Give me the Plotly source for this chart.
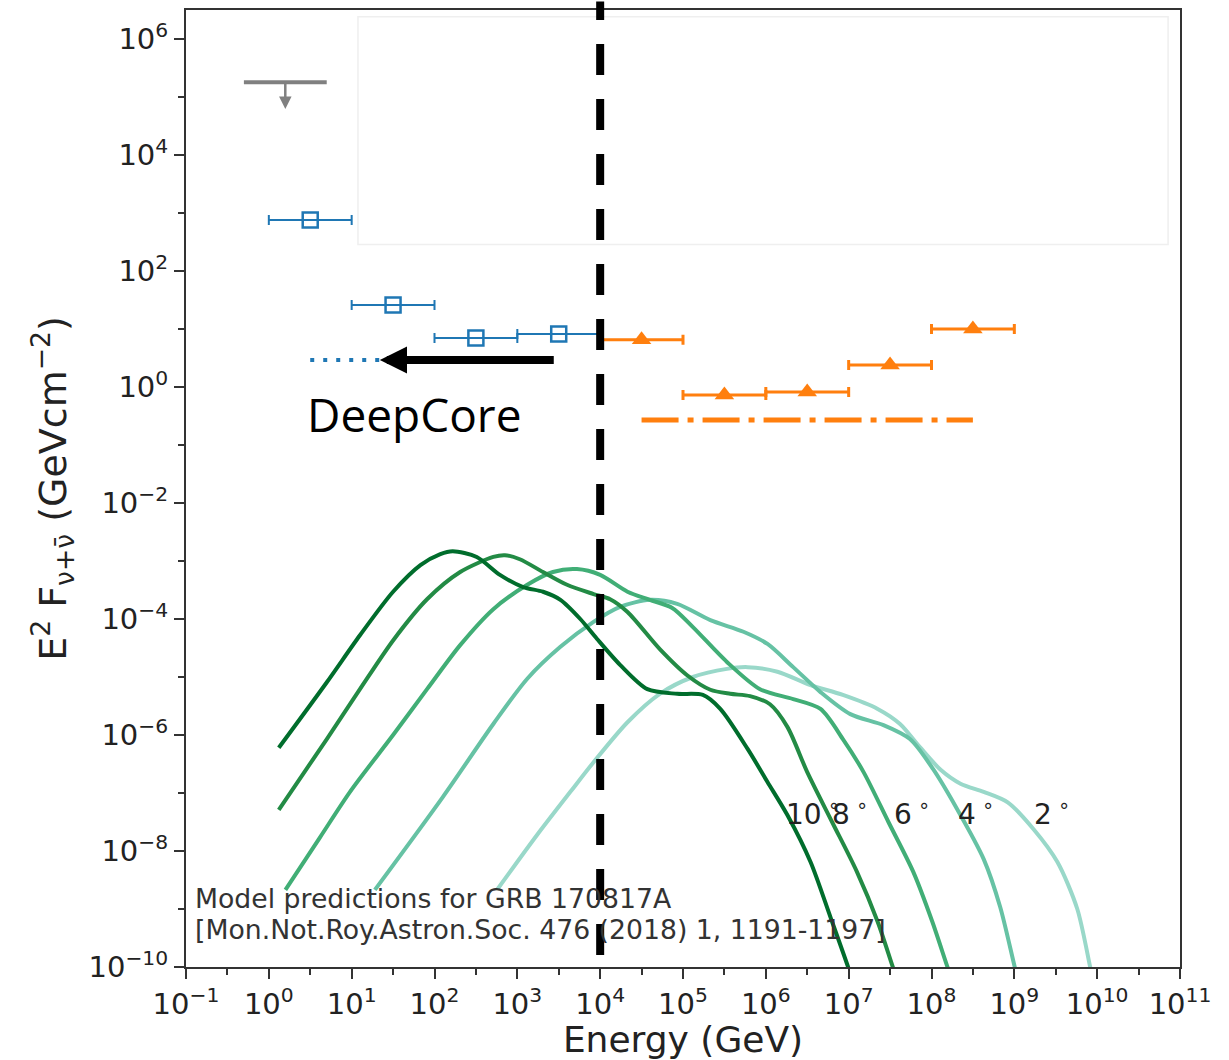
import math
import plotly.graph_objects as go

# ---------------- data ----------------
# grey upper limit
ul_center = [1.58]
ul_lo = [0.5]
ul_hi = [5.0]
ul_flux = [1.8e5]
ul_tip = [6.2e4]

# blue open squares with energy bins
blue_center = [3.16, 31.6, 316.0, 3160.0]
blue_lo = [1.0, 10.0, 100.0, 1000.0]
blue_hi = [10.0, 100.0, 1000.0, 10000.0]
blue_flux = [760.0, 26.0, 7.0, 8.2]

# DeepCore dotted sensitivity
deepcore_E = [3.16, 2870.0]
deepcore_F = [2.92, 2.92]

# orange triangles
orange_center = [3.16e4, 3.16e5, 3.16e6, 3.16e7, 3.16e8]
orange_lo = [1e4, 1e5, 1e6, 1e7, 1e8]
orange_hi = [1e5, 1e6, 1e7, 1e8, 1e9]
orange_flux = [6.5, 0.73, 0.82, 2.4, 10.0]

# orange dash-dot sensitivity
orange_sens_E = [3.16e4, 3.16e8]
orange_sens_F = [0.27, 0.27]

# threshold marker
threshold_E = 1e4

# model curves (log10 E [GeV], log10 E^2F)
logE_10deg = [0.12, 0.70, 1.10, 1.50, 1.83, 2.07, 2.22, 2.51, 2.79, 3.07, 3.31, 3.52, 3.76, 3.96, 4.24, 4.57, 4.93, 5.24, 5.45, 5.78, 6.02, 6.26, 6.54, 6.78, 7.00, 7.07]
logF_10deg = [-6.22, -5.09, -4.28, -3.53, -3.07, -2.88, -2.83, -2.93, -3.24, -3.45, -3.53, -3.67, -4.00, -4.34, -4.79, -5.21, -5.29, -5.31, -5.55, -6.24, -6.81, -7.38, -8.19, -9.14, -10.03, -10.35]

logE_8deg = [0.12, 0.70, 1.10, 1.50, 1.91, 2.31, 2.71, 2.85, 3.03, 3.31, 3.60, 3.92, 4.12, 4.33, 4.72, 5.05, 5.33, 5.57, 5.81, 6.05, 6.26, 6.50, 6.80, 7.10, 7.35, 7.54, 7.62]
logF_8deg = [-7.29, -6.07, -5.21, -4.37, -3.66, -3.19, -2.93, -2.90, -2.97, -3.19, -3.41, -3.57, -3.66, -3.88, -4.52, -4.97, -5.22, -5.29, -5.33, -5.47, -5.86, -6.64, -7.50, -8.36, -9.22, -10.03, -10.35]

logE_6deg = [0.20, 0.62, 0.98, 1.50, 1.91, 2.31, 2.71, 3.12, 3.43, 3.72, 4.00, 4.33, 4.60, 4.87, 5.12, 5.53, 5.93, 6.33, 6.66, 6.93, 7.18, 7.48, 7.78, 8.01, 8.20, 8.28]
logF_6deg = [-8.67, -7.76, -6.98, -6.00, -5.21, -4.45, -3.83, -3.41, -3.19, -3.14, -3.24, -3.53, -3.67, -3.81, -4.14, -4.74, -5.21, -5.38, -5.55, -6.07, -6.64, -7.50, -8.36, -9.22, -10.03, -10.35]

logE_4deg = [1.28, 2.10, 2.71, 3.12, 3.52, 3.92, 4.24, 4.60, 4.93, 5.33, 5.73, 6.02, 6.33, 6.66, 7.02, 7.42, 7.74, 8.02, 8.31, 8.63, 8.83, 9.01, 9.07]
logF_4deg = [-8.67, -7.07, -5.81, -5.03, -4.48, -4.05, -3.79, -3.67, -3.74, -4.02, -4.22, -4.43, -4.83, -5.26, -5.64, -5.83, -6.07, -6.59, -7.28, -8.14, -8.97, -10.03, -10.35]

logE_2deg = [2.76, 3.24, 3.64, 3.92, 4.33, 4.72, 5.12, 5.53, 5.78, 6.14, 6.54, 6.93, 7.35, 7.62, 7.86, 8.11, 8.35, 8.63, 8.92, 9.23, 9.52, 9.76, 9.92, 9.97]
logF_2deg = [-8.66, -7.72, -6.98, -6.47, -5.78, -5.29, -5.00, -4.86, -4.83, -4.91, -5.14, -5.31, -5.55, -5.81, -6.21, -6.60, -6.84, -6.98, -7.16, -7.62, -8.19, -9.00, -10.03, -10.35]

angle_labels = ["10", "8", "6", "4", "2"]
curve_colors = ["#006d2c", "#238b45", "#41ae76", "#66c2a4", "#99d8c9"]

x_tick_exp = list(range(-1, 12))
y_tick_exp = list(range(-10, 7, 2))

# ---------------- figure ----------------
fig = go.Figure()

curves = [(logE_10deg, logF_10deg), (logE_8deg, logF_8deg), (logE_6deg, logF_6deg),
          (logE_4deg, logF_4deg), (logE_2deg, logF_2deg)]
# lightest first so darker lines sit on top
for (lx, ly), col in reversed(list(zip(curves, curve_colors))):
    fig.add_trace(go.Scatter(
        x=[10 ** v for v in lx], y=[10 ** v for v in ly], mode="lines",
        line=dict(color=col, width=4, shape="spline", smoothing=0.8),
        hoverinfo="skip"))

# grey upper limit bar
fig.add_trace(go.Scatter(
    x=ul_center, y=ul_flux, mode="markers",
    marker=dict(size=1, color="rgba(0,0,0,0)"),
    error_x=dict(type="data", symmetric=False,
                 array=[h - c for h, c in zip(ul_hi, ul_center)],
                 arrayminus=[c - l for c, l in zip(ul_center, ul_lo)],
                 color="#808080", thickness=4, width=0)))

# blue squares
fig.add_trace(go.Scatter(
    x=blue_center, y=blue_flux, mode="markers",
    marker=dict(symbol="square-open", size=15, color="#1f77b4", line=dict(width=2.5, color="#1f77b4")),
    error_x=dict(type="data", symmetric=False,
                 array=[h - c for h, c in zip(blue_hi, blue_center)],
                 arrayminus=[c - l for c, l in zip(blue_center, blue_lo)],
                 color="#1f77b4", thickness=2, width=5)))

# DeepCore dotted
fig.add_trace(go.Scatter(
    x=deepcore_E, y=deepcore_F, mode="lines",
    line=dict(color="#1f77b4", width=4, dash="4px,9px")))

# orange triangles
fig.add_trace(go.Scatter(
    x=orange_center, y=orange_flux, mode="markers",
    marker=dict(symbol="triangle-up", size=17, color="#ff7f0e"),
    error_x=dict(type="data", symmetric=False,
                 array=[h - c for h, c in zip(orange_hi, orange_center)],
                 arrayminus=[c - l for c, l in zip(orange_center, orange_lo)],
                 color="#ff7f0e", thickness=3, width=5)))

# orange dash-dot
fig.add_trace(go.Scatter(
    x=orange_sens_E, y=orange_sens_F, mode="lines",
    line=dict(color="#ff7f0e", width=5, dash="37px,9px,6px,9px")))

annotations = []
# upper-limit arrow
annotations.append(dict(x=math.log10(ul_center[0]), y=math.log10(ul_tip[0]),
                        ax=math.log10(ul_center[0]), ay=math.log10(ul_flux[0]),
                        xref="x", yref="y", axref="x", ayref="y",
                        showarrow=True, arrowhead=2, arrowsize=1, arrowwidth=2.5,
                        arrowcolor="#808080", text=""))
# DeepCore black arrow
annotations.append(dict(x=1.34, y=math.log10(deepcore_F[0]),
                        ax=math.log10(deepcore_E[1]), ay=math.log10(deepcore_F[0]),
                        xref="x", yref="y", axref="x", ayref="y",
                        showarrow=True, arrowhead=2, arrowsize=0.68, arrowwidth=8,
                        arrowcolor="black", text=""))
annotations.append(dict(x=1.75, y=-0.47, xref="x", yref="y", text="DeepCore",
                        showarrow=False, font=dict(family="Open Sans", size=46, color="black")))

# angle labels
label_pos_x = [6.22, 6.77, 7.52, 8.30, 9.21]
label_pos_y = -7.33
for lab, lx in zip(angle_labels, label_pos_x):
    annotations.append(dict(x=lx, y=label_pos_y, xref="x", yref="y", xanchor="left",
                            text=lab + "<sup> ∘</sup>", showarrow=False,
                            font=dict(family="DejaVu Sans", size=28, color="#222")))

# reference text
annotations.append(dict(x=0.007, y=(967 - 898) / 959, xref="paper", yref="paper",
                        xanchor="left", yanchor="middle", showarrow=False,
                        text="Model predictions for GRB 170817A",
                        font=dict(family="DejaVu Sans", size=26.7, color="#333")))
annotations.append(dict(x=0.007, y=(967 - 929) / 959, xref="paper", yref="paper",
                        xanchor="left", yanchor="middle", showarrow=False,
                        text="[Mon.Not.Roy.Astron.Soc. 476 (2018) 1, 1191-1197]",
                        font=dict(family="DejaVu Sans", size=26.7, color="#333")))

shapes = [
    # faint leftover legend frame
    dict(type="rect", xref="paper", yref="paper", x0=0.173, x1=0.988, y0=0.755, y1=0.993,
         line=dict(color="#efefef", width=1.5), fillcolor="rgba(0,0,0,0)", layer="below"),
    # threshold dashed line
    dict(type="line", xref="x", yref="paper", x0=threshold_E, x1=threshold_E, y0=0.0125, y1=1.009,
         line=dict(color="black", width=8, dash="31px,24px")),
]


def sup(e):
    s = str(e).replace("-", "−")
    return "10<sup>" + s + "</sup>"


fig.update_layout(
    width=1229, height=1060,
    margin=dict(l=186, r=49, t=8, b=93),
    plot_bgcolor="white", paper_bgcolor="white",
    showlegend=False,
    font=dict(family="DejaVu Sans", color="#222"),
    annotations=annotations, shapes=shapes,
    xaxis=dict(type="log", range=[-1, 11], showgrid=False, zeroline=False,
               showline=True, mirror=True, linecolor="#333", linewidth=2,
               ticks="outside", ticklen=10, tickwidth=2, tickcolor="#333",
               tickvals=[10 ** e for e in x_tick_exp], ticktext=[sup(e) for e in x_tick_exp],
               tickfont=dict(size=29, color="#222"),
               minor=dict(tickvals=[10 ** (e + 0.5) for e in x_tick_exp[:-1]], ticks="outside",
                          ticklen=6, tickwidth=2, tickcolor="#333", showgrid=False),
               title=dict(text="Energy (GeV)", font=dict(size=36, color="#222"), standoff=6)),
    yaxis=dict(type="log", range=[-10, 6.5], showgrid=False, zeroline=False,
               showline=True, mirror=True, linecolor="#333", linewidth=2,
               ticks="outside", ticklen=10, tickwidth=2, tickcolor="#333",
               tickvals=[10 ** e for e in y_tick_exp], ticktext=[sup(e) for e in y_tick_exp],
               tickfont=dict(size=29, color="#222"),
               minor=dict(tickvals=[10 ** (e + 1) for e in y_tick_exp[:-1]], ticks="outside",
                          ticklen=6, tickwidth=2, tickcolor="#333", showgrid=False),
               title=dict(text="E<sup>2</sup> F<sub>ν+ν̄</sub> (GeVcm<sup>−2</sup>)",
                          font=dict(size=38, color="#222"), standoff=10)),
)

fig.write_html("out.html", config={"displayModeBar": False},
               post_script="document.body.style.margin='0';document.body.style.overflow='hidden';")
